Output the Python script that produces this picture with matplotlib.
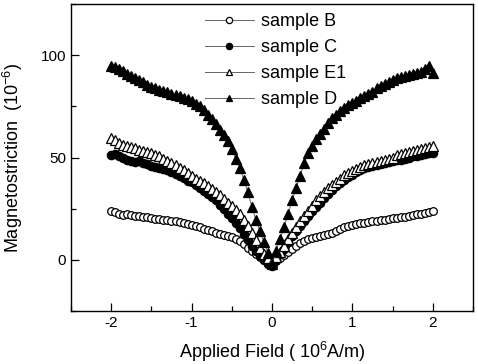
#!/usr/bin/env python3

import matplotlib
matplotlib.use("Agg")
import matplotlib.pyplot as plt
from matplotlib.ticker import MultipleLocator

# applied field, 10^6 A/m
field = [
    -2.00, -1.95, -1.90, -1.85, -1.80, -1.75, -1.70, -1.65, -1.60, -1.55,
    -1.50, -1.45, -1.40, -1.35, -1.30, -1.25, -1.20, -1.15, -1.10, -1.05,
    -1.00, -0.95, -0.90, -0.85, -0.80, -0.75, -0.70, -0.65, -0.60, -0.55,
    -0.50, -0.45, -0.40, -0.35, -0.30, -0.25, -0.20, -0.15, -0.10, -0.05,
    0.00,
    0.05, 0.10, 0.15, 0.20, 0.25, 0.30, 0.35, 0.40, 0.45, 0.50,
    0.55, 0.60, 0.65, 0.70, 0.75, 0.80, 0.85, 0.90, 0.95, 1.00,
    1.05, 1.10, 1.15, 1.20, 1.25, 1.30, 1.35, 1.40, 1.45, 1.50,
    1.55, 1.60, 1.65, 1.70, 1.75, 1.80, 1.85, 1.90, 1.95, 2.00,
]

# magnetostriction, 10^-6
sample_b = [
    24.0, 23.5, 22.5, 22.0, 22.5, 22.0, 21.5, 21.5, 21.0, 21.0,
    20.5, 20.0, 20.0, 19.5, 19.5, 19.0, 19.0, 18.5, 18.0, 17.5,
    17.0, 16.5, 16.0, 15.0, 14.5, 14.0, 13.0, 12.5, 12.0, 11.5,
    11.0, 10.0, 9.0, 7.5, 6.0, 4.5, 3.0, 1.5, 0.0, -1.0,
    -2.0,
    -0.5, 1.0, 2.5, 4.0, 5.5, 7.0, 8.0, 9.0, 10.0, 10.5,
    11.0, 11.5, 12.0, 12.5, 13.0, 14.0, 15.0, 16.0, 16.5, 17.0,
    17.5, 18.0, 18.0, 18.5, 19.0, 19.0, 19.5, 19.5, 20.0, 20.5,
    20.5, 21.0, 21.0, 21.5, 22.0, 22.5, 22.5, 23.0, 23.5, 24.0,
]

sample_c = [
    51.0, 51.5, 50.5, 50.0, 49.0, 48.5, 48.0, 48.5, 47.5, 47.0,
    46.0, 45.5, 45.0, 44.5, 44.0, 43.0, 42.0, 41.0, 40.0, 38.5,
    38.0, 36.5, 35.0, 33.5, 32.0, 30.5, 29.0, 27.0, 25.0, 22.5,
    20.5, 18.0, 15.5, 12.5, 9.5, 7.0, 4.5, 2.0, 0.0, -2.0,
    -3.0,
    0.0, 3.0, 5.5, 8.5, 11.5, 14.0, 16.5, 19.0, 21.5, 24.0,
    26.0, 28.0, 30.0, 32.0, 34.0, 36.0, 37.5, 39.0, 40.5, 41.5,
    43.0, 44.0, 45.0, 45.5, 46.0, 46.5, 47.0, 47.5, 48.0, 48.5,
    49.0, 49.0, 49.5, 50.0, 50.5, 50.5, 51.0, 51.5, 52.0, 52.0,
]

sample_e1 = [
    59.5, 58.5, 57.0, 56.0, 55.5, 55.0, 54.5, 53.5, 53.0, 52.5,
    52.0, 51.0, 50.5, 49.5, 48.5, 47.5, 46.5, 45.0, 44.0, 42.5,
    41.0, 39.5, 38.5, 37.5, 36.0, 34.5, 33.0, 31.5, 29.5, 28.0,
    26.5, 24.5, 22.5, 19.5, 16.5, 13.0, 9.5, 6.0, 3.0, 1.0,
    -1.0,
    1.5, 4.0, 7.0, 10.0, 13.0, 16.0, 19.0, 21.5, 24.0, 26.5,
    29.0, 31.0, 33.0, 35.0, 36.5, 38.0, 39.5, 41.5, 42.5, 43.5,
    44.5, 45.5, 46.5, 47.0, 47.5, 48.0, 48.5, 49.0, 49.5, 50.0,
    51.0, 51.5, 52.0, 52.5, 53.0, 53.5, 54.0, 54.5, 55.0, 55.5,
]

sample_d = [
    94.5, 94.0, 93.0, 92.5, 91.0, 90.0, 89.0, 88.0, 87.0, 85.5,
    84.5, 84.0, 83.0, 82.5, 82.0, 81.0, 80.5, 80.0, 79.0, 78.5,
    77.5, 76.0, 75.0, 73.0, 71.0, 69.0, 66.5, 63.5, 61.0, 58.0,
    54.0, 49.5, 45.0, 39.0, 33.0, 26.0, 19.5, 14.0, 8.5, 3.5,
    -2.0,
    4.5, 10.0, 16.0, 22.5, 29.0, 35.0, 41.0, 47.5, 52.0, 55.5,
    59.0, 61.5, 64.0, 67.0, 69.5, 71.0, 72.5, 74.0, 75.5, 76.5,
    77.5, 79.0, 80.0, 81.0, 82.0, 84.0, 85.0, 86.0, 87.0, 88.0,
    89.0, 89.5, 90.0, 90.5, 91.0, 91.5, 92.0, 93.0, 94.5, 91.5,
]


def main() -> None:
    plt.rcParams["font.family"] = ["Liberation Sans", "DejaVu Sans"]
    plt.rcParams["mathtext.fontset"] = "custom"
    plt.rcParams["mathtext.rm"] = "Liberation Sans"

    fig = plt.figure(figsize=(4.78, 3.64), dpi=100)
    ax = fig.add_axes([0.1485, 0.1456, 0.841, 0.8434])

    line_kw = dict(linewidth=0.7, color="#666666", markeredgecolor="black", markeredgewidth=0.9)
    ax.plot(field, sample_b, marker="o", markersize=5.5, markerfacecolor="white", label="sample B", **line_kw)
    ax.plot(field, sample_c, marker="o", markersize=6, markerfacecolor="black", label="sample C", **line_kw)
    ax.plot(field, sample_e1, marker="^", markersize=6.5, markerfacecolor="white", label="sample E1", **line_kw)
    ax.plot(field, sample_d, marker="^", markersize=7, markerfacecolor="black", label="sample D", **line_kw)

    ax.set_xlim(-2.5, 2.5)
    ax.set_ylim(-25, 125)
    ax.set_xticks([-2, -1, 0, 1, 2])
    ax.set_xticklabels(["-2", "-1", "0", "1", "2"])
    ax.set_yticks([0, 50, 100])
    ax.xaxis.set_minor_locator(MultipleLocator(0.5))
    ax.yaxis.set_minor_locator(MultipleLocator(25))
    ax.tick_params(which="major", direction="in", length=6, width=0.9, labelsize=11)
    ax.tick_params(which="minor", direction="in", length=3.5, width=0.9)
    for spine in ax.spines.values():
        spine.set_linewidth(1.0)

    ax.set_xlabel("Applied Field ( 10$^{6}$A/m)", fontsize=13, labelpad=7)
    ax.set_ylabel("Magnetostriction  (10$^{-6}$)", fontsize=13, labelpad=11)

    legend = ax.legend(loc="upper left", bbox_to_anchor=(0.3, 1.015), frameon=False, fontsize=13,
                       handlelength=2.7, handletextpad=0.4, labelspacing=0.5, borderpad=0.25)
    for handle in legend.legend_handles:
        handle.set_markersize(4.5)

    fig.savefig("out.png", dpi=100)
    plt.close(fig)


if __name__ == "__main__":
    main()
